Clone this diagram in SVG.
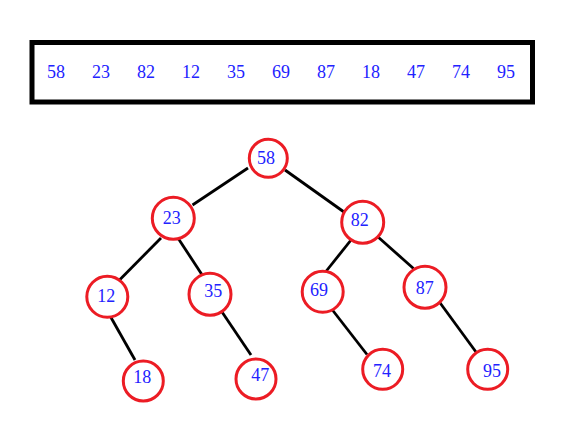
<svg xmlns="http://www.w3.org/2000/svg" width="578" height="446" viewBox="0 0 578 446">
<style>
.t{font-family:"Liberation Serif","Noto Serif",serif;font-size:18px;fill:#2222ff;text-anchor:middle}
.n{fill:#fff;stroke:#ec1c24;stroke-width:3}
.e{stroke:#000;stroke-width:2.8;fill:none}
</style>
<rect x="0" y="0" width="578" height="446" fill="#fff"/>
<g id="array">
<rect x="32" y="42.5" width="500.5" height="59.5" fill="#fff" stroke="#000" stroke-width="5"/>
<text class="t" x="56" y="78">58</text>
<text class="t" x="101" y="78">23</text>
<text class="t" x="146" y="78">82</text>
<text class="t" x="191" y="78">12</text>
<text class="t" x="236" y="78">35</text>
<text class="t" x="281" y="78">69</text>
<text class="t" x="326" y="78">87</text>
<text class="t" x="371" y="78">18</text>
<text class="t" x="416" y="78">47</text>
<text class="t" x="461" y="78">74</text>
<text class="t" x="506" y="78">95</text>
</g>
<g id="connectors">
<line class="e" x1="248" y1="168" x2="192.5" y2="205"/>
<line class="e" x1="285" y1="170" x2="344" y2="212"/>
<line class="e" x1="161" y1="238" x2="119.5" y2="280"/>
<line class="e" x1="176" y1="235" x2="203.5" y2="277"/>
<line class="e" x1="355" y1="235" x2="325.5" y2="272"/>
<line class="e" x1="373" y1="232.5" x2="413.5" y2="268.5"/>
<line class="e" x1="330.5" y1="307.5" x2="367" y2="354.5"/>
<line class="e" x1="436.5" y1="298" x2="476" y2="352"/>
<line class="e" x1="109" y1="314" x2="135" y2="360"/>
<line class="e" x1="220" y1="309" x2="251" y2="355"/>
</g>
<g id="n58"><circle class="n" cx="268.3" cy="158.3" r="19"/><text class="t" x="266" y="164">58</text></g>
<g id="n23"><circle class="n" cx="173.3" cy="218.3" r="21"/><text class="t" x="171.7" y="224">23</text></g>
<g id="n82"><circle class="n" cx="362.7" cy="222.3" r="21"/><text class="t" x="359.7" y="226">82</text></g>
<g id="n12"><circle class="n" cx="107.3" cy="296.7" r="20.5"/><text class="t" x="106.3" y="302">12</text></g>
<g id="n35"><circle class="n" cx="210" cy="294.3" r="21"/><text class="t" x="213.3" y="297">35</text></g>
<g id="n69"><circle class="n" cx="322.7" cy="291.7" r="20.5"/><text class="t" x="319" y="296">69</text></g>
<g id="n87"><circle class="n" cx="425" cy="287.3" r="21"/><text class="t" x="424.7" y="294">87</text></g>
<g id="n18"><circle class="n" cx="143.3" cy="381" r="20"/><text class="t" x="142.3" y="382.7">18</text></g>
<g id="n47"><circle class="n" cx="256" cy="379" r="20"/><text class="t" x="260.3" y="381">47</text></g>
<g id="n74"><circle class="n" cx="382.7" cy="369.3" r="20"/><text class="t" x="382" y="377">74</text></g>
<g id="n95"><circle class="n" cx="487.7" cy="369.3" r="20"/><text class="t" x="492" y="377">95</text></g>
</svg>
